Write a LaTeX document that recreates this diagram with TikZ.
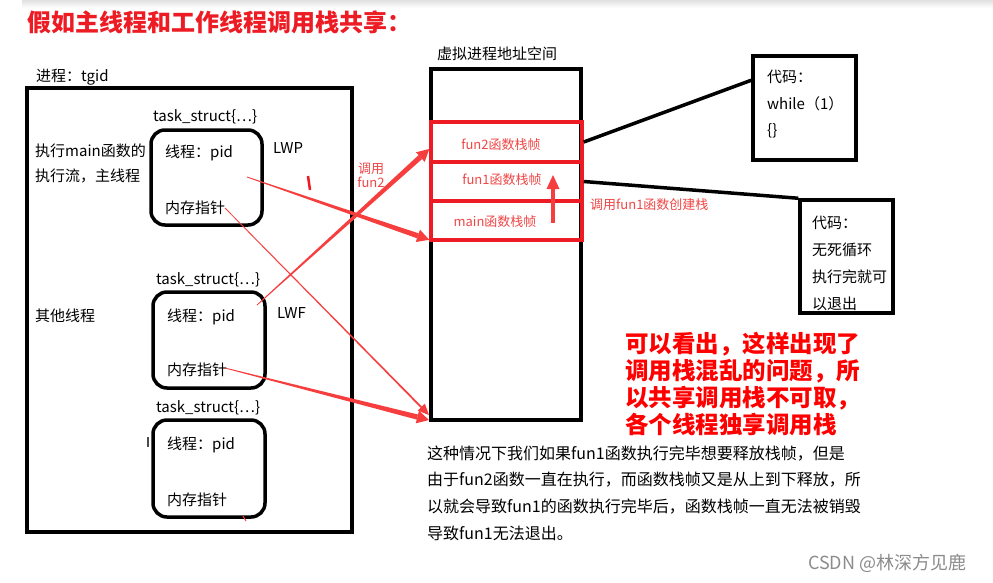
\documentclass[tikz,border=0pt]{standalone}
\usepackage{fontspec}
\setmainfont{Noto Sans CJK SC}
\usetikzlibrary{calc}
\definecolor{titlered}{RGB}{237,28,36}
\definecolor{arrowred}{RGB}{246,62,62}
\definecolor{framered}{RGB}{237,28,36}
\definecolor{labelred}{RGB}{240,70,70}
\definecolor{wmgray}{RGB}{140,140,140}
\newcommand\taperarrow[6]{%
  \coordinate (#2-hb) at ($(#2)!#5!(#1)$);
  \fill[arrowred] ($(#1)!#3!90:(#2)$) -- ($(#2-hb)!#4!90:(#2)$) -- ($(#2-hb)!#4!-90:(#2)$) -- ($(#1)!#3!-90:(#2)$) -- cycle;
  \fill[arrowred] (#2) -- ($(#2-hb)!#6!90:(#2)$) -- ($(#2-hb)!#6!-90:(#2)$) -- cycle;
}
\begin{document}
\begin{tikzpicture}[x=1pt,y=-1pt,
  txt/.style={inner sep=0pt, anchor=west, font=\fontsize{15}{15}\selectfont},
  rtxt/.style={inner sep=0pt, text=labelred, font=\fontsize{13}{14}\selectfont},
  blackbox/.style={draw=black, line width=4pt, inner sep=0pt},
  thread/.style={draw=black, line width=3.5pt, rounded corners=14pt, inner sep=0pt},
  codebox/.style={draw=black, line width=3.5pt, inner sep=0pt},
  frame/.style={draw=framered, line width=3.5pt, inner sep=0pt, minimum width=151pt},
  link/.style={draw=black, line width=3.5pt},
]
\useasboundingbox (0,0) rectangle (993,582);
\fill[white] (0,0) rectangle (993,582);
\shade[top color=black!12, bottom color=white] (22,0) rectangle (993,8);

% title
\node[txt, anchor=west, text=titlered, font=\fontsize{24}{24}\selectfont\bfseries] (title) at (27,22) {假如主线程和工作线程调用栈共享：};

% process box
\node[txt] (proclabel) at (36,77) {进程：tgid};
\node[blackbox, minimum width=325pt, minimum height=444pt] (proc) at (189.5,310) {};

\node[txt, align=left, font=\fontsize{15}{25}\selectfont] (mainlabel) at (35,163.5) {执行main函数的\\执行流，主线程};
\node[txt] (otherlabel) at (35,316) {其他线程};

% thread 1
\node[txt] (ts1) at (153,117) {task\_struct\{⋯\}};
\node[thread, minimum width=111pt, minimum height=95pt] (th1) at (206.5,177.5) {};
\node[txt] (pid1) at (165,153) {线程：pid};
\node[txt] (mem1) at (165,208) {内存指针};
\node[txt] (lwp) at (273,148) {LWP};

% thread 2
\node[txt] (ts2) at (156,280) {task\_struct\{⋯\}};
\node[thread, minimum width=112pt, minimum height=96pt] (th2) at (209,340) {};
\node[txt] (pid2) at (167,317) {线程：pid};
\node[txt] (mem2) at (167,370) {内存指针};
\node[txt] (lwf) at (277,313) {LWF};

% thread 3
\node[txt] (ts3) at (156,408) {task\_struct\{⋯\}};
\node[thread, minimum width=112pt, minimum height=97pt] (th3) at (209,468.5) {};
\node[txt] (pid3) at (167,445) {线程：pid};
\node[txt] (mem3) at (167,500) {内存指针};

% virtual address space
\node[txt] (vaslabel) at (437,54) {虚拟进程地址空间};
\node[blackbox, minimum width=150pt, minimum height=351pt] (vas) at (506,244.5) {};
\node[frame, minimum height=40pt] (f2) at (506.5,142) {};
\node[frame, minimum height=39pt] (f1) at (506.5,181.5) {};
\node[frame, minimum height=39pt] (fm) at (506.5,220.5) {};
\node[rtxt] (f2t) at (501,145) {fun2函数栈帧};
\node[rtxt] (f1t) at (502,180) {fun1函数栈帧};
\node[rtxt] (fmt) at (495,222) {main函数栈帧};
\node[rtxt, align=center] (callf2) at (371,175) {调用\\fun2};
\node[rtxt, anchor=west] (callf1) at (590,205) {调用fun1函数创建栈};

% code boxes
\node[codebox, minimum width=103pt, minimum height=104pt] (codeA) at (804.5,108) {};
\node[txt] (ca1) at (767,77) {代码：};
\node[txt] (ca2) at (767,103.5) {while（1）};
\node[txt] (ca3) at (767,131) {\{\}};
\node[codebox, minimum width=93pt, minimum height=113pt] (codeB) at (846.5,256.5) {};
\node[txt] (cb1) at (812,223) {代码：};
\node[txt] (cb2) at (812,250) {无死循环};
\node[txt] (cb3) at (812,277) {执行完就可};
\node[txt] (cb4) at (812,303.5) {以退出};

% black links
\draw[link] (f2.east) -- ([yshift=-26pt]codeA.north west);
\draw[link] (f1.east) -- (codeB.north west);

% red arrows
\coordinate (s1) at (247,177);
\coordinate (e1) at ([yshift=2pt]fm.south west);
\coordinate (s2) at (257,305);
\coordinate (e2) at ([yshift=-7pt]f2.west);
\coordinate (s3) at (225,208);
\coordinate (e3) at ([yshift=7pt]vas.south west);
\coordinate (s4) at (225,368);
\coordinate (e4) at ([yshift=2pt]vas.south west);
\coordinate (s5) at (553,223);
\coordinate (e5) at (553,175);
\taperarrow{s1}{e1}{0.4pt}{2.6pt}{12pt}{6.5pt}
\taperarrow{s2}{e2}{0.4pt}{2.6pt}{12pt}{6.5pt}
\taperarrow{s3}{e3}{0.4pt}{0.9pt}{11pt}{5pt}
\taperarrow{s4}{e4}{0.4pt}{2.6pt}{12pt}{6.5pt}
\taperarrow{s5}{e5}{1.6pt}{1.6pt}{14pt}{6.5pt}

% stray marks
\draw[titlered, line width=2.5pt] (308,176) -- (310,190);
\draw[black!70, line width=1.2pt] (148,437) -- (148,447);
\draw[arrowred, line width=1pt] (243,516) -- (246,521);

% red conclusion
\node[txt, align=left, text=red, font=\fontsize{23.5}{27.3}\selectfont\bfseries] (concl) at (625,384) {可以看出，这样出现了\\调用栈混乱的问题，所\\以共享调用栈不可取，\\各个线程独享调用栈};

% bottom paragraph
\node[txt, align=left, font=\fontsize{16}{26.7}\selectfont] (para) at (427,493) {这种情况下我们如果fun1函数执行完毕想要释放栈帧，但是\\由于fun2函数一直在执行，而函数栈帧又是从上到下释放，所\\以就会导致fun1的函数执行完毕后，函数栈帧一直无法被销毁\\导致fun1无法退出。};

% watermark
\node[txt, text=wmgray, font=\fontsize{18}{18}\selectfont] (wm) at (808,563) {CSDN @林深方见鹿};
\end{tikzpicture}
\end{document}
